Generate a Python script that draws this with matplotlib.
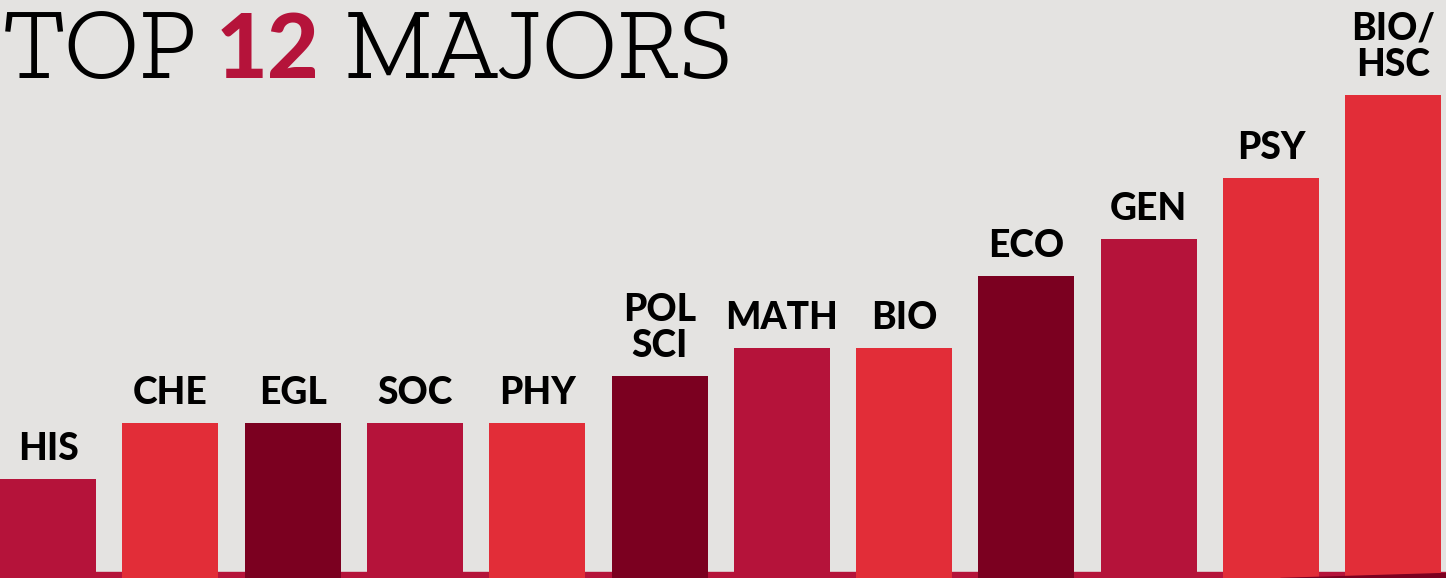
import matplotlib.pyplot as plt
from matplotlib.patches import Polygon
from matplotlib.font_manager import FontProperties
from matplotlib.textpath import TextPath

# data
majors = ['HIS', 'CHE', 'EGL', 'SOC', 'PHY', 'POL\nSCI', 'MATH', 'BIO',
          'ECO', 'GEN', 'PSY', 'BIO/\nHSC']
heights = [99, 155, 155, 155, 155, 202, 230, 230, 302, 339, 400, 483]
shade = ['mid', 'light', 'dark', 'mid', 'light', 'dark', 'mid', 'light',
         'dark', 'mid', 'light', 'light']

palette = {'mid': '#B5133A', 'light': '#E22D38', 'dark': '#7B0020'}
BG = '#E4E3E1'

W, H = 1446, 578
DPI = 100


def size_for_cap(prop, cap_px, glyph='H'):
    # font size (pt) that gives the wanted cap height in pixels
    h = TextPath((0, 0), glyph, size=100, prop=prop).get_extents().height
    return cap_px * 72 / DPI / (h / 100)


title_fp = FontProperties(family='Zilla Slab', weight=300)
bold_fp = FontProperties(family='Lato', weight='black')

fig = plt.figure(figsize=(W / DPI, H / DPI), dpi=DPI, facecolor=BG)
ax = fig.add_axes([0, 0, 1, 1], facecolor=BG)

pitch = 122.3
ax.set_xlim(-48 / pitch, (W - 48) / pitch)
ax.set_ylim(0, H)
ax.axis('off')

xs = list(range(len(majors)))
ax.bar(xs, heights, width=96 / pitch, color=[palette[s] for s in shade],
       zorder=3)

# bottom strip behind the bars
ax.axhspan(0, 6, color=palette['mid'], zorder=1)
wedge = Polygon([(0.885, 0), (1.0, 0), (1.0, 0.009)], closed=True,
                transform=ax.transAxes, color=palette['dark'], zorder=4)
ax.add_patch(wedge)

lab_size = size_for_cap(bold_fp, 27)
for x, h, lab in zip(xs, heights, majors):
    ax.text(x, h + 19, lab, ha='center', va='baseline', fontproperties=bold_fp,
            fontsize=lab_size, color='black', linespacing=1.08, zorder=5)

# title
title_size = size_for_cap(title_fp, 66)
num_size = size_for_cap(bold_fp, 65, glyph='1')
base = 1 - 78 / H
fig.text(3 / W, base, 'TOP', fontproperties=title_fp, fontsize=title_size,
         color='black', ha='left', va='baseline')
fig.text(216 / W, base, '12', fontproperties=bold_fp, fontsize=num_size,
         color=palette['mid'], ha='left', va='baseline')
fig.text(344 / W, base, 'MAJORS', fontproperties=title_fp, fontsize=title_size,
         color='black', ha='left', va='baseline')

fig.savefig('out.png', dpi=DPI, facecolor=BG)
